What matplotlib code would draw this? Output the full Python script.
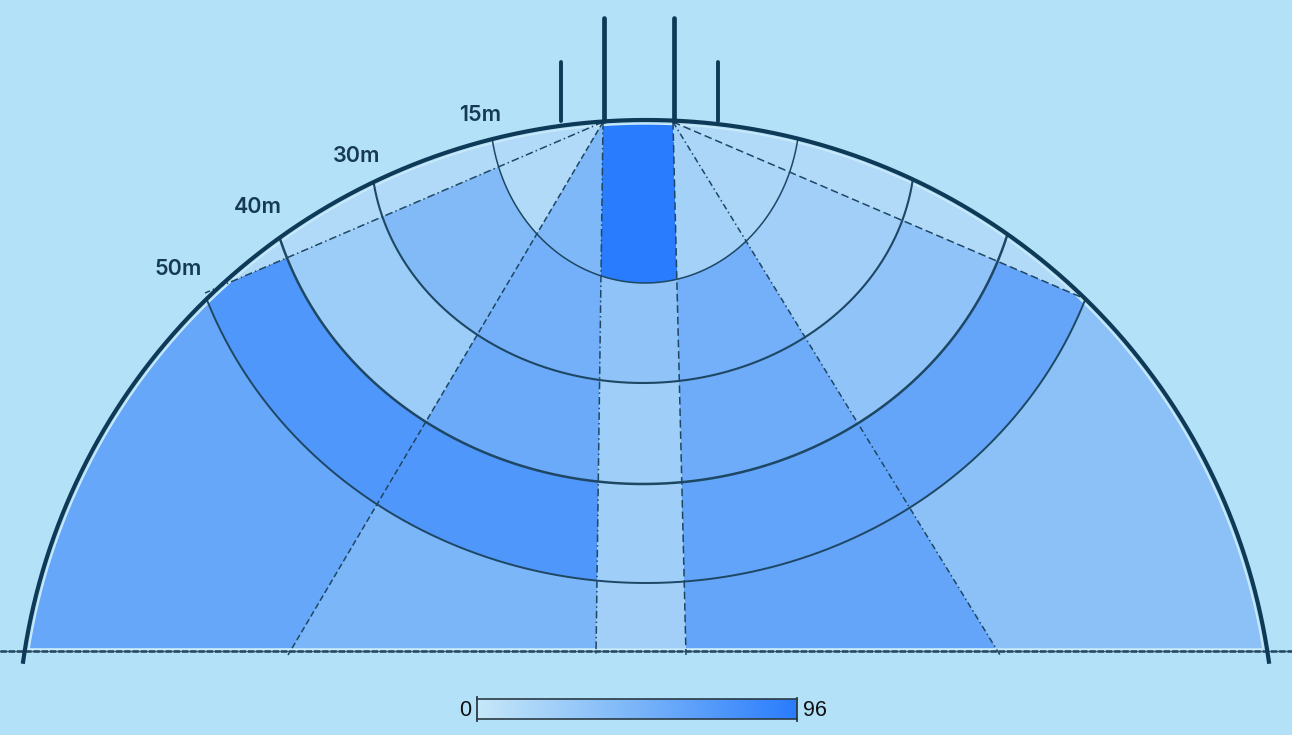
import numpy as np
import matplotlib
matplotlib.use("Agg")
import matplotlib.pyplot as plt
from matplotlib.colors import LinearSegmentedColormap, Normalize

# ---------------- data ----------------
distance_labels = ["15m", "30m", "40m", "50m"]
sector_names = ["left pocket", "left wing", "left centre", "centre",
                "right centre", "right wing", "right pocket"]
band_names = ["0-15m", "15-30m", "30-40m", "40-50m", "50m+"]
pocket_left = [13, 13, 13, 13, 13]
wing_left = [13, 43, 26, 73, 59]
centre_left = [45, 52, 57, 73, 47]
centre = [96, 34, 24, 24, 23]
centre_right = [21, 52, 55, 62, 61]
wing_right = [17, 23, 34, 61, 36]
pocket_right = [13, 13, 13, 13, 13]
vmin, vmax = 0, 96
cbar_labels = ["0", "96"]

# ---------------- layout (pixels) ----------------
W, H = 1292, 735
BG = "#b3e1f8"
DARK = "#0e3a58"
LINE = "#1e4763"
bcx, bcy, bR = 646, 749, 629          # boundary circle
base_y = 651                          # baseline
post_l, post_r, post_y = 603, 673, 122
arcs = [(645, 110, 155, 173),          # 15m ellipse (cx, cy, a, b)
        (643, 150, 272, 233),          # 30m
        (643, 140, 379, 344),          # 40m
        (646, 150, 468, 433)]          # 50m
arc_lw = [1.1, 1.5, 1.8, 1.4]
label_pos = [(480, 115), (357, 156), (258, 207), (178, 269)]
L1_end, L2_end, CL_end = (205, 293), (288, 655), (596, 655)
CR_end, R2_end, R1_end = (686, 655), (1000, 655), (1083, 298)

cmap = LinearSegmentedColormap.from_list(
    "goal", [(0.0, "#c6e8f8"), (0.5, "#7ab5f9"), (1.0, "#2a7cfe")])
norm = Normalize(vmin=vmin, vmax=vmax)

fig = plt.figure(figsize=(W / 100, H / 100), dpi=100, facecolor=BG)
ax = fig.add_axes([0, 0, 1, 1])
ax.set_xlim(0, W)
ax.set_ylim(H, 0)
ax.set_facecolor(BG)
ax.axis("off")

# ---------------- zone grid ----------------
table = np.array([pocket_left, wing_left, centre_left, centre,
                  centre_right, wing_right, pocket_right], dtype=float)
X, Y = np.meshgrid(np.arange(W) + 0.5, np.arange(H) + 0.5)

band = np.full(X.shape, 4, dtype=int)
for k in range(len(arcs) - 1, -1, -1):
    cx, cy, a, b = arcs[k]
    inside = ((X - cx) / a) ** 2 + ((Y - cy) / b) ** 2 < 1
    band[inside] = k


def x_on(p0, p1, y):
    return p0[0] + (p1[0] - p0[0]) * (y - p0[1]) / (p1[1] - p0[1])


def y_on(p0, p1, x):
    return p0[1] + (p1[1] - p0[1]) * (x - p0[0]) / (p1[0] - p0[0])


PL, PR = (post_l, post_y), (post_r, post_y)
sector = np.full(X.shape, 3, dtype=int)
left = X < x_on(PL, CL_end, Y)
right = X > x_on(PR, CR_end, Y)
lc = left & (X > x_on(PL, L2_end, Y))
lw_ = left & ~lc
sector[lc] = 2
sector[lw_ & (Y >= y_on(PL, L1_end, X))] = 1
sector[lw_ & (Y < y_on(PL, L1_end, X))] = 0
rc = right & (X < x_on(PR, R2_end, Y))
rw = right & ~rc
sector[rc] = 4
sector[rw & (Y >= y_on(PR, R1_end, X))] = 5
sector[rw & (Y < y_on(PR, R1_end, X))] = 6

Z = table[sector, band]
mask = ((X - bcx) ** 2 + (Y - bcy) ** 2 > (bR - 4) ** 2) | (Y > base_y - 3) | (Y < post_y - 2)
ax.imshow(np.ma.masked_array(Z, mask), cmap=cmap, norm=norm,
          extent=(0, W, H, 0), interpolation="nearest", zorder=1)

# ---------------- lines ----------------
th = np.linspace(np.pi, 2 * np.pi, 3000)
ex = bcx + (bR - 4) * np.cos(th)
ey = bcy + (bR - 4) * np.sin(th)
ey = np.where(ey > base_y - 3, np.nan, ey)
ax.plot(ex, ey, color="#cdebfa", lw=1.0, zorder=2)
ax.plot([bcx - 620, bcx + 615], [base_y - 2.5, base_y - 2.5], color="#cdebfa", lw=0.9, zorder=2)

for (cx, cy, a, b), lw in zip(arcs, arc_lw):
    t = np.linspace(0, 2 * np.pi, 4000)
    x = cx + a * np.cos(t)
    y = cy + b * np.sin(t)
    bad = ((x - bcx) ** 2 + (y - bcy) ** 2 > (bR - 1) ** 2) | (y > base_y)
    x = np.where(bad, np.nan, x)
    y = np.where(bad, np.nan, y)
    ax.plot(x, y, color=LINE, lw=lw, solid_capstyle="round", zorder=3)

radial = [(PL, L1_end, (5, 2, 1, 2)), (PL, L2_end, (4, 2)),
          (PL, CL_end, (5, 2, 1, 2)), (PR, CR_end, (5, 2.5)),
          (PR, R2_end, (4, 2, 1, 2)), (PR, R1_end, (5, 2.5))]
for p0, p1, dash in radial:
    ax.plot([p0[0], p1[0]], [p0[1], p1[1]], color=LINE, lw=1.1,
            dashes=dash, zorder=3)

ax.plot([0, W], [base_y, base_y], color="#3b5f78", lw=1.0, zorder=3)
ax.plot([0, W], [base_y, base_y], color="#24485f", lw=1.8, dashes=(2.5, 0.8), zorder=3)

th = np.linspace(np.pi, 2 * np.pi, 4000)
bx = bcx + bR * np.cos(th)
by = bcy + bR * np.sin(th)
keep = by <= base_y + 13
ax.plot(bx[keep], by[keep], color=DARK, lw=3.0, solid_capstyle="butt", zorder=4)

for px, top, lw in [(post_l + 1, 18, 3.4), (post_r + 1, 18, 3.4),
                    (561, 62, 2.8), (718, 62, 2.8)]:
    ax.plot([px, px], [top, post_y - 1], color=DARK, lw=lw,
            solid_capstyle="round", zorder=4)

for txt, (lx, ly) in zip(distance_labels, label_pos):
    ax.text(lx, ly, txt, ha="center", va="center", fontsize=15.5,
            family=["Inter", "DejaVu Sans"], weight="semibold",
            color="#163a55", zorder=5)

# ---------------- colour bar ----------------
cb_x0, cb_x1, cb_y0, cb_y1 = 477, 797, 699, 719
grad = np.linspace(vmin, vmax, 400)[None, :]
ax.imshow(grad, cmap=cmap, norm=norm, extent=(cb_x0, cb_x1, cb_y1, cb_y0),
          aspect="auto", interpolation="bilinear", zorder=5)
ax.plot([cb_x0, cb_x1], [cb_y0, cb_y0], color="#2b3b45", lw=1.2, zorder=6)
ax.plot([cb_x0, cb_x1], [cb_y1, cb_y1], color="#2b3b45", lw=1.2, zorder=6)
ax.plot([cb_x0, cb_x0], [cb_y0 - 2, cb_y1 + 2], color="#2b3b45", lw=1.3, zorder=6)
ax.plot([cb_x1, cb_x1], [cb_y0 - 1, cb_y1 + 2], color="#2b3b45", lw=1.3, zorder=6)
ax.text(cb_x0 - 6, 711, cbar_labels[0], ha="right", va="center", fontsize=15.5,
        family=["Liberation Sans", "DejaVu Sans"], color="#111111", zorder=6)
ax.text(cb_x1 + 6, 711, cbar_labels[1], ha="left", va="center", fontsize=15.5,
        family=["Liberation Sans", "DejaVu Sans"], color="#111111", zorder=6)

fig.savefig("out.png", dpi=100, facecolor=BG)
